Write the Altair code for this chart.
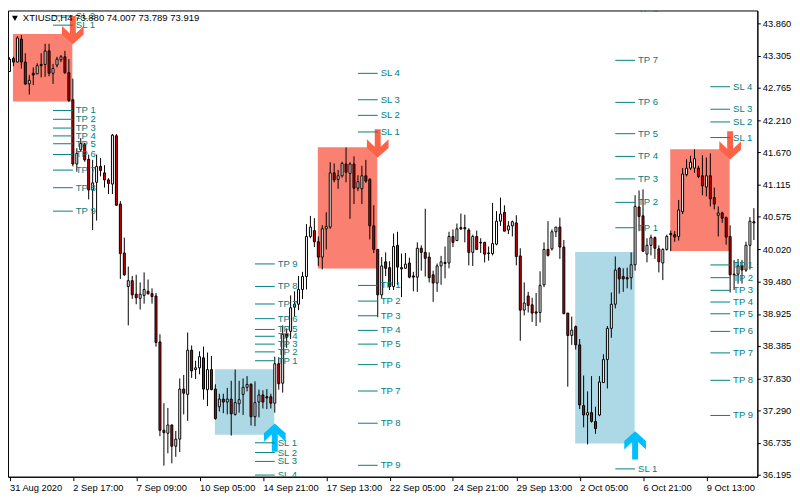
import altair as alt
import pandas as pd

FONT = "Liberation Sans"
FS = 9.6
AXFS = 9.4
TEAL = "#008080"

candle_open = [
43.04,43.26,43.20,43.59,43.20,42.83,43.01,43.00,43.16,43.16,
43.39,43.01,43.15,43.24,43.29,43.02,42.56,41.47,41.71,41.81,
41.55,41.03,41.16,41.43,41.32,41.20,41.13,41.95,40.79,39.96,
39.39,39.49,39.26,39.19,39.24,39.31,39.27,39.23,38.45,36.95,
36.90,37.04,36.68,36.80,37.65,37.56,38.31,37.98,38.01,38.18,
37.64,37.98,37.65,37.35,37.48,37.43,37.48,37.22,37.40,37.56,
37.68,37.73,37.18,37.43,37.55,37.52,37.52,37.41,38.08,37.75,
38.58,38.63,39.04,39.09,39.34,39.56,40.24,40.34,40.15,39.89,
40.37,40.40,41.32,41.21,41.27,41.47,41.31,41.47,41.06,41.05,
41.27,41.21,40.42,40.02,39.25,39.81,39.71,39.39,40.09,39.71,
39.70,39.79,39.57,39.55,40.04,39.97,39.89,39.59,39.45,39.74,
39.80,39.79,40.24,40.17,40.39,40.39,40.35,39.97,40.24,40.14,
40.14,39.96,39.95,40.11,40.50,40.65,40.35,40.42,40.47,39.91,
38.99,39.23,39.08,38.96,38.95,39.42,40.02,40.03,40.32,40.40,
40.06,38.94,38.56,38.71,38.40,37.37,37.21,37.25,37.10,37.21,
37.76,38.15,38.68,39.09,39.70,39.56,39.54,39.54,39.76,40.74,
40.59,39.94,40.09,40.22,40.03,39.79,40.02,40.29,40.27,40.24,
40.66,41.29,41.40,41.40,41.40,41.27,41.08,41.27,40.90,40.60,
40.64,40.56,40.24,39.60,39.60,39.74,39.67,40.09,40.49]
candle_close = [
43.25,43.20,43.61,43.20,42.83,42.89,42.98,43.14,43.14,43.39,
43.01,43.09,43.25,43.29,43.02,42.55,41.47,41.65,41.82,41.54,
41.03,41.15,41.43,41.36,41.20,41.14,41.96,40.77,39.95,39.59,
39.49,39.25,39.20,39.26,39.34,39.27,39.22,38.44,36.95,36.91,
37.04,36.68,36.80,37.65,37.58,38.31,37.96,38.01,38.20,37.65,
37.98,37.64,37.15,37.48,37.43,37.48,37.23,37.42,37.47,37.68,
37.73,37.18,37.42,37.55,37.43,37.50,37.41,38.08,37.74,38.58,
38.53,39.03,39.09,39.34,39.56,40.24,40.40,40.15,39.89,40.37,
40.41,41.32,41.20,41.27,41.48,41.33,41.47,41.06,41.17,41.27,
41.18,40.42,40.02,39.25,39.74,39.70,39.39,40.07,39.72,39.69,
39.77,39.55,39.55,40.04,39.97,39.87,39.54,39.45,39.74,39.81,
39.78,40.24,40.14,40.37,40.37,40.37,39.97,40.24,40.02,40.13,
39.94,39.95,40.12,40.50,40.62,40.33,40.42,40.49,39.90,38.99,
39.11,39.07,38.94,38.94,39.41,40.02,39.92,40.32,40.40,40.06,
38.93,38.56,38.65,38.40,37.38,37.21,37.25,37.10,36.98,37.77,
38.15,38.68,39.09,39.67,39.52,39.52,39.52,39.76,40.75,40.58,
39.99,40.09,40.22,40.04,39.81,40.02,40.24,40.27,40.23,40.69,
41.30,41.40,41.50,41.56,41.26,41.10,41.27,40.88,40.79,40.64,
40.55,40.23,39.59,39.59,39.74,39.67,40.09,40.50,40.47]
candle_high = [
43.28,43.29,43.64,43.66,43.35,42.98,43.11,43.18,43.35,43.51,
43.51,43.17,43.29,43.32,43.39,43.25,42.92,41.74,41.91,41.83,
41.63,41.54,41.63,41.57,41.45,41.23,41.98,41.98,40.84,40.22,
39.73,39.57,39.59,39.46,39.63,39.51,39.36,39.28,38.58,37.41,
37.33,37.05,36.94,37.83,37.89,38.61,38.39,38.13,38.29,38.37,
38.27,38.21,37.73,37.57,37.57,37.67,37.79,37.98,37.79,37.83,
37.87,37.75,37.78,37.64,37.63,37.65,37.57,38.20,38.19,38.73,
38.68,39.24,39.31,39.57,39.64,40.45,40.59,40.55,40.24,40.43,
40.65,41.50,41.48,41.37,41.51,41.75,41.50,41.60,41.28,41.44,
41.54,41.23,40.77,40.03,39.89,39.97,39.82,40.29,40.32,39.95,
39.96,39.88,39.64,40.14,40.09,40.71,39.97,39.66,39.78,39.91,
40.07,40.32,40.36,40.46,40.63,40.61,40.38,40.27,40.34,40.21,
40.15,40.07,40.81,40.67,40.90,40.77,40.50,40.51,40.60,40.04,
39.46,39.30,39.20,39.28,39.65,40.14,40.50,40.36,40.40,40.56,
40.18,38.94,38.88,38.73,38.50,37.88,37.61,37.87,37.35,37.87,
38.24,38.72,39.29,39.90,39.72,39.70,39.71,39.97,40.94,41.02,
41.04,40.21,40.27,40.24,40.09,40.04,40.27,40.34,40.33,40.86,
41.40,41.55,41.61,41.72,41.44,41.62,41.58,41.65,41.07,40.75,
40.66,40.58,40.43,39.84,39.86,39.84,40.15,40.57,40.72]
candle_low = [
43.04,43.13,43.20,43.09,42.81,42.65,42.81,43.00,42.94,42.95,
42.96,42.83,43.11,43.20,43.00,42.52,41.43,41.34,41.68,41.51,
40.87,40.35,40.51,41.26,41.07,40.96,40.96,40.76,39.52,39.57,
38.73,39.18,39.09,39.00,39.10,39.25,39.10,38.37,36.85,36.35,
36.56,36.39,36.50,36.58,37.22,37.11,37.84,37.82,37.90,37.47,
37.36,37.63,37.13,37.27,37.24,37.22,36.86,37.20,37.25,37.21,
37.61,37.03,37.02,37.17,37.32,37.31,37.32,37.25,37.64,37.59,
38.35,38.50,38.88,38.99,39.18,39.34,40.21,40.06,39.74,39.68,
40.02,40.37,41.16,41.05,41.24,41.16,40.54,40.79,41.01,40.79,
41.15,40.19,39.96,38.87,39.19,39.57,39.33,39.33,39.42,39.21,
39.70,39.53,39.31,39.30,39.66,39.56,39.46,39.13,39.30,39.42,
39.53,39.70,40.06,40.17,40.35,40.14,39.75,39.74,40.02,39.96,
39.80,39.83,39.92,40.09,40.42,40.33,40.28,40.24,39.75,38.47,
38.90,38.95,38.79,38.72,38.78,39.38,39.90,40.00,40.23,39.86,
38.92,37.69,38.40,38.32,37.31,37.00,36.71,37.08,36.89,37.19,
37.76,37.66,38.52,39.02,39.27,39.30,39.36,39.34,39.66,40.33,
39.98,39.80,39.92,39.86,39.63,39.50,40.00,39.99,40.15,40.17,
40.62,41.26,41.37,41.32,41.23,40.94,40.92,40.75,40.70,40.24,
40.47,40.10,39.29,39.33,39.44,39.44,39.64,39.68,40.18]

price_ticks = [43.860,43.305,42.765,42.210,41.670,41.115,40.575,40.020,39.480,38.925,38.385,37.830,37.290,36.735,36.195]
time_tick_index = [0,16,32,48,64,80,96,112,128,144,160,176]
time_tick_labels = ["31 Aug 2020","2 Sep 17:00","7 Sep 09:00","10 Sep 05:00","14 Sep 21:00","17 Sep 13:00",
                    "22 Sep 05:00","24 Sep 21:00","29 Sep 13:00","2 Oct 05:00","6 Oct 21:00","9 Oct 13:00"]
header_text = "XTIUSD,H4 73.880 74.007 73.789 73.919"

zone_start = [0.875, 77.875, 166.875, 51.875, 142.875]
zone_end = [15.875, 92.875, 181.875, 66.875, 157.875]
zone_top = [43.678, 41.753, 41.720, 37.987, 39.978]
zone_bottom = [42.533, 39.696, 39.994, 36.875, 36.726]
zone_kind = ["sell", "sell", "sell", "buy", "buy"]

arrow_index = [16, 93, 182, 67, 158]
arrow_price = [43.744, 41.819, 41.786, 36.826, 36.693]

level_end_index = [16, 67, 93, 158, 182]
level_tp = [
    [42.379,42.229,42.080,41.947,41.814,41.632,41.367,41.068,40.670],
    [38.131,38.281,38.413,38.546,38.662,38.845,39.094,39.392,39.774],
    [39.409,39.143,38.894,38.646,38.413,38.065,37.617,37.070,36.356],
    [40.388,40.819,41.217,41.599,41.985,42.516,43.230,44.100],
    [39.757,39.541,39.326,39.127,38.928,38.629,38.264,37.799,37.202],
]
level_sl = [
    [43.827,43.985],
    [36.738,36.572,36.422,36.190],
    [42.014,42.296,42.561,43.009],
    [36.295],
    [41.919,42.184,42.400,42.782],
]

candles = pd.DataFrame({
    "i": range(len(candle_open)), "o": candle_open, "h": candle_high, "l": candle_low, "c": candle_close,
})
candles["top"] = candles[["o", "c"]].max(axis=1)
candles["bot"] = candles[["o", "c"]].min(axis=1)
candles["dir"] = ["up" if c >= o else "down" for o, c in zip(candle_open, candle_close)]

zones = pd.DataFrame({"a": zone_start, "b": zone_end, "t": zone_top, "u": zone_bottom, "k": zone_kind})
arrows = pd.DataFrame({"i": arrow_index, "p": arrow_price, "k": zone_kind})

rows = []
for e, tps, sls in zip(level_end_index, level_tp, level_sl):
    for n, p in enumerate(tps, 1):
        rows.append({"a": e - 5, "b": e, "t": e + 0.75, "p": p, "label": f"TP {n}"})
    for n, p in enumerate(sls, 1):
        rows.append({"a": e - 5, "b": e, "t": e + 0.75, "p": p, "label": f"SL {n}"})
levels = pd.DataFrame(rows)

xs = alt.Scale(domain=[-0.375, 188.875], nice=False, zero=False, padding=0)
ys = alt.Scale(domain=[36.162, 44.076], nice=False, zero=False, padding=0)
kind_fill = alt.Scale(domain=["sell", "buy"], range=["#FA8072", "#ADD8E6"])
arrow_fill = alt.Scale(domain=["sell", "buy"], range=["#FF6347", "#00BFFF"])

label_js = "[" + ",".join(f"'{t}'" for t in time_tick_labels) + "][datum.value/16]"

x_axis = alt.Axis(values=time_tick_index, labelExpr=label_js, labelAlign="left", labelFont=FONT, labelFontSize=AXFS,
                  labelColor="black", tickColor="black", domainColor="black", tickSize=4, labelPadding=3,
                  grid=False, title=None, labelOverlap=False, labelBound=False, labelFlush=False)
y_axis = alt.Axis(orient="right", values=price_ticks, format=".3f", labelFont=FONT, labelFontSize=AXFS,
                  labelColor="black", tickColor="black", domainColor="black", tickSize=3, labelPadding=2,
                  grid=False, title=None, labelOverlap=False, labelBound=False)


def X(f):
    return alt.X(f, scale=xs, axis=x_axis)


def Y(f):
    return alt.Y(f, scale=ys, axis=y_axis)


zone_layer = alt.Chart(zones).mark_rect().encode(
    x=X("a:Q"), x2="b:Q", y=Y("t:Q"), y2="u:Q",
    fill=alt.Fill("k:N", scale=kind_fill, legend=None))

wick_layer = alt.Chart(candles).mark_rule(color="black", strokeWidth=1).encode(
    x=X("i:Q"), y=Y("h:Q"), y2="l:Q")

body_layer = alt.Chart(candles).mark_bar(size=2, stroke="black", strokeWidth=1, orient="vertical").encode(
    x=X("i:Q"), y=Y("top:Q"), y2="bot:Q",
    fill=alt.Fill("dir:N", scale=alt.Scale(domain=["up", "down"], range=["white", "#D40000"]), legend=None))

DOWN = "M-0.2,-0.95L0.2,-0.95L0.2,0.23L0.73,-0.28L0.73,0.3L0,0.95L-0.73,0.3L-0.73,-0.28L-0.2,0.23Z"
UP = "M-0.2,0.95L0.2,0.95L0.2,-0.23L0.73,0.28L0.73,-0.3L0,-0.95L-0.73,-0.3L-0.73,0.28L-0.2,-0.23Z"
arrow_layers = [
    alt.Chart(arrows[arrows.k == k]).mark_point(shape=s, size=900, filled=True, opacity=1, strokeWidth=0).encode(
        x=X("i:Q"), y=Y("p:Q"),
        fill=alt.Fill("k:N", scale=arrow_fill, legend=None))
    for k, s in (("sell", DOWN), ("buy", UP))
]

line_layer = alt.Chart(levels).mark_rule(color=TEAL, strokeWidth=1, clip=True).encode(
    x=X("a:Q"), x2="b:Q", y=Y("p:Q"))
label_layer = alt.Chart(levels).mark_text(color=TEAL, align="left", baseline="middle", font=FONT, fontSize=FS, clip=True).encode(
    x=X("t:Q"), y=Y("p:Q"), text="label:N")

head = pd.DataFrame({"t": [header_text]})
head_tri = alt.Chart(head).mark_point(shape="triangle-down", size=35, filled=True, color="black", opacity=1).encode(
    x=alt.value(7), y=alt.value(8))
head_txt = alt.Chart(head).mark_text(color="black", align="left", baseline="middle", font=FONT, fontSize=FS).encode(
    x=alt.value(15), y=alt.value(8), text="t:N")

chart = alt.layer(zone_layer, wick_layer, body_layer, *arrow_layers, line_layer, label_layer, head_txt, head_tri).resolve_scale(
    fill="independent"
).properties(
    width=757, height=471,
    padding={"left": 0, "top": 0, "right": 35, "bottom": 21},
    autosize=alt.AutoSizeParams(type="none"),
    background="white",
).configure_view(stroke="black", strokeWidth=1)

chart.save("out.html", embed_options={"renderer": "svg", "actions": False})
